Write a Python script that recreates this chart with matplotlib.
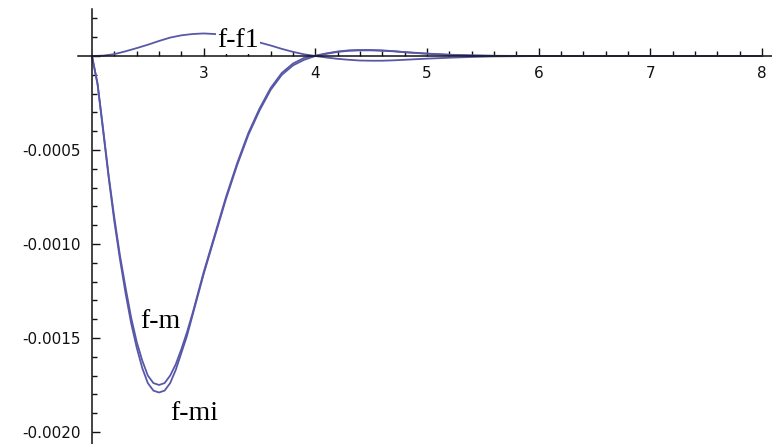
import matplotlib
matplotlib.use("Agg")
import matplotlib.pyplot as plt
from matplotlib.ticker import FixedLocator, FuncFormatter

# differences against the reference solution f
x_m = [2.0, 2.05, 2.1, 2.15, 2.2, 2.25, 2.3, 2.35, 2.4, 2.45, 2.5, 2.55, 2.6,
       2.65, 2.7, 2.75, 2.8, 2.85, 2.9, 2.95, 3.0, 3.1, 3.2, 3.3, 3.4, 3.5,
       3.6, 3.7, 3.8, 3.9, 4.0, 4.1, 4.2, 4.3, 4.4, 4.5, 4.6, 4.7, 4.8, 5.0,
       5.2, 5.4, 5.6, 6.0, 8.0]
f_mi = [0.0, -0.00015, -0.00040, -0.00065, -0.00088, -0.00108, -0.00126,
        -0.00142, -0.00155, -0.00166, -0.00174, -0.00178, -0.00179, -0.00178,
        -0.00174, -0.00167, -0.00158, -0.00149, -0.00138, -0.00127, -0.00116,
        -0.00096, -0.00076, -0.00058, -0.00042, -0.00029, -0.00018, -0.00010,
        -0.00005, -0.00002, 0.0, 0.000012, 0.000022, 0.000028, 0.00003,
        0.00003, 0.000028, 0.000025, 0.00002, 0.000012, 0.000006, 0.000003,
        0.000001, 0.0, 0.0]
f_m = [0.0, -0.00015, -0.00039, -0.00064, -0.00086, -0.00106, -0.00123,
       -0.00139, -0.00152, -0.00162, -0.00170, -0.00174, -0.00175, -0.00174,
       -0.00170, -0.00164, -0.00156, -0.00147, -0.00137, -0.00126, -0.00115,
       -0.00095, -0.00075, -0.00057, -0.00041, -0.00028, -0.00017, -0.00009,
       -0.00004, -0.00001, 0.000002, 0.000014, 0.000024, 0.00003, 0.000032,
       0.000032, 0.00003, 0.000026, 0.000021, 0.000013, 0.000007, 0.000003,
       0.000001, 0.0, 0.0]

x_f1 = [2.0, 2.1, 2.2, 2.3, 2.4, 2.5, 2.6, 2.7, 2.8, 2.9, 3.0, 3.1, 3.2, 3.3,
        3.4, 3.5, 3.6, 3.7, 3.8, 3.9, 4.0, 4.1, 4.2, 4.3, 4.4, 4.5, 4.6, 4.7,
        4.8, 5.0, 5.2, 5.4, 5.6, 5.8, 6.0, 8.0]
f_f1 = [0.0, 0.000002, 0.00001, 0.000025, 0.000042, 0.00006, 0.00008,
        0.000098, 0.00011, 0.000117, 0.00012, 0.000117, 0.00011, 0.0001,
        0.000088, 0.000072, 0.000056, 0.000038, 0.000022, 0.000009, 0.0,
        -0.000008, -0.000015, -0.00002, -0.000024, -0.000025, -0.000025,
        -0.000023, -0.00002, -0.000014, -0.000009, -0.000005, -0.000002,
        -0.000001, 0.0, 0.0]

x_major = [3, 4, 5, 6, 7, 8]
y_major = [-0.002, -0.0015, -0.001, -0.0005]

line_color = "#5858a8"

fig = plt.figure(figsize=(7.72, 4.44), dpi=100)
ax = fig.add_axes([0, 0, 1, 1])

ax.plot(x_m, f_mi, color=line_color, lw=1.3)
ax.plot(x_m, f_m, color=line_color, lw=1.3)
ax.plot(x_f1, f_f1, color=line_color, lw=1.3)

ax.set_xlim(1.176, 8.09)
ax.set_ylim(-0.002064, 0.000298)

# axes crossing at (2, 0)
for side in ["top", "right"]:
    ax.spines[side].set_visible(False)
ax.spines["left"].set_position(("data", 2))
ax.spines["bottom"].set_position(("data", 0))
ax.spines["left"].set_bounds(-0.00207, 0.00025)
ax.spines["bottom"].set_bounds(1.875, 8.09)
for side in ["left", "bottom"]:
    ax.spines[side].set_linewidth(1.1)
    ax.spines[side].set_color("#111111")

ax.xaxis.set_major_locator(FixedLocator(x_major))
ax.xaxis.set_minor_locator(FixedLocator([2.2 + 0.2 * i for i in range(30)]))
ax.yaxis.set_major_locator(FixedLocator(y_major + [0.0]))
ax.yaxis.set_minor_locator(FixedLocator([-0.002 + 0.0001 * i for i in range(23)]))
ax.yaxis.set_major_formatter(FuncFormatter(lambda v, p: "" if v == 0 else f"{v:.4f}"))

ax.tick_params(which="both", direction="in", color="#111111", width=1.0,
               labelsize=11, labelcolor="#111111")
ax.tick_params(which="major", length=6)
ax.tick_params(which="minor", length=3.5)
ax.tick_params(axis="x", pad=7)
ax.tick_params(axis="y", pad=8)

# curve labels on white boxes
box = dict(facecolor="white", edgecolor="none", pad=1)
label_font = dict(family="Liberation Serif", fontsize=20, ha="left", va="baseline", bbox=box)
ax.text(3.12, 0.000048, "f-f1", **label_font)
ax.text(2.43, -0.001447, "f-m", **label_font)
ax.text(2.70, -0.001936, "f-mi", **label_font)

fig.savefig("out.png", dpi=100)
